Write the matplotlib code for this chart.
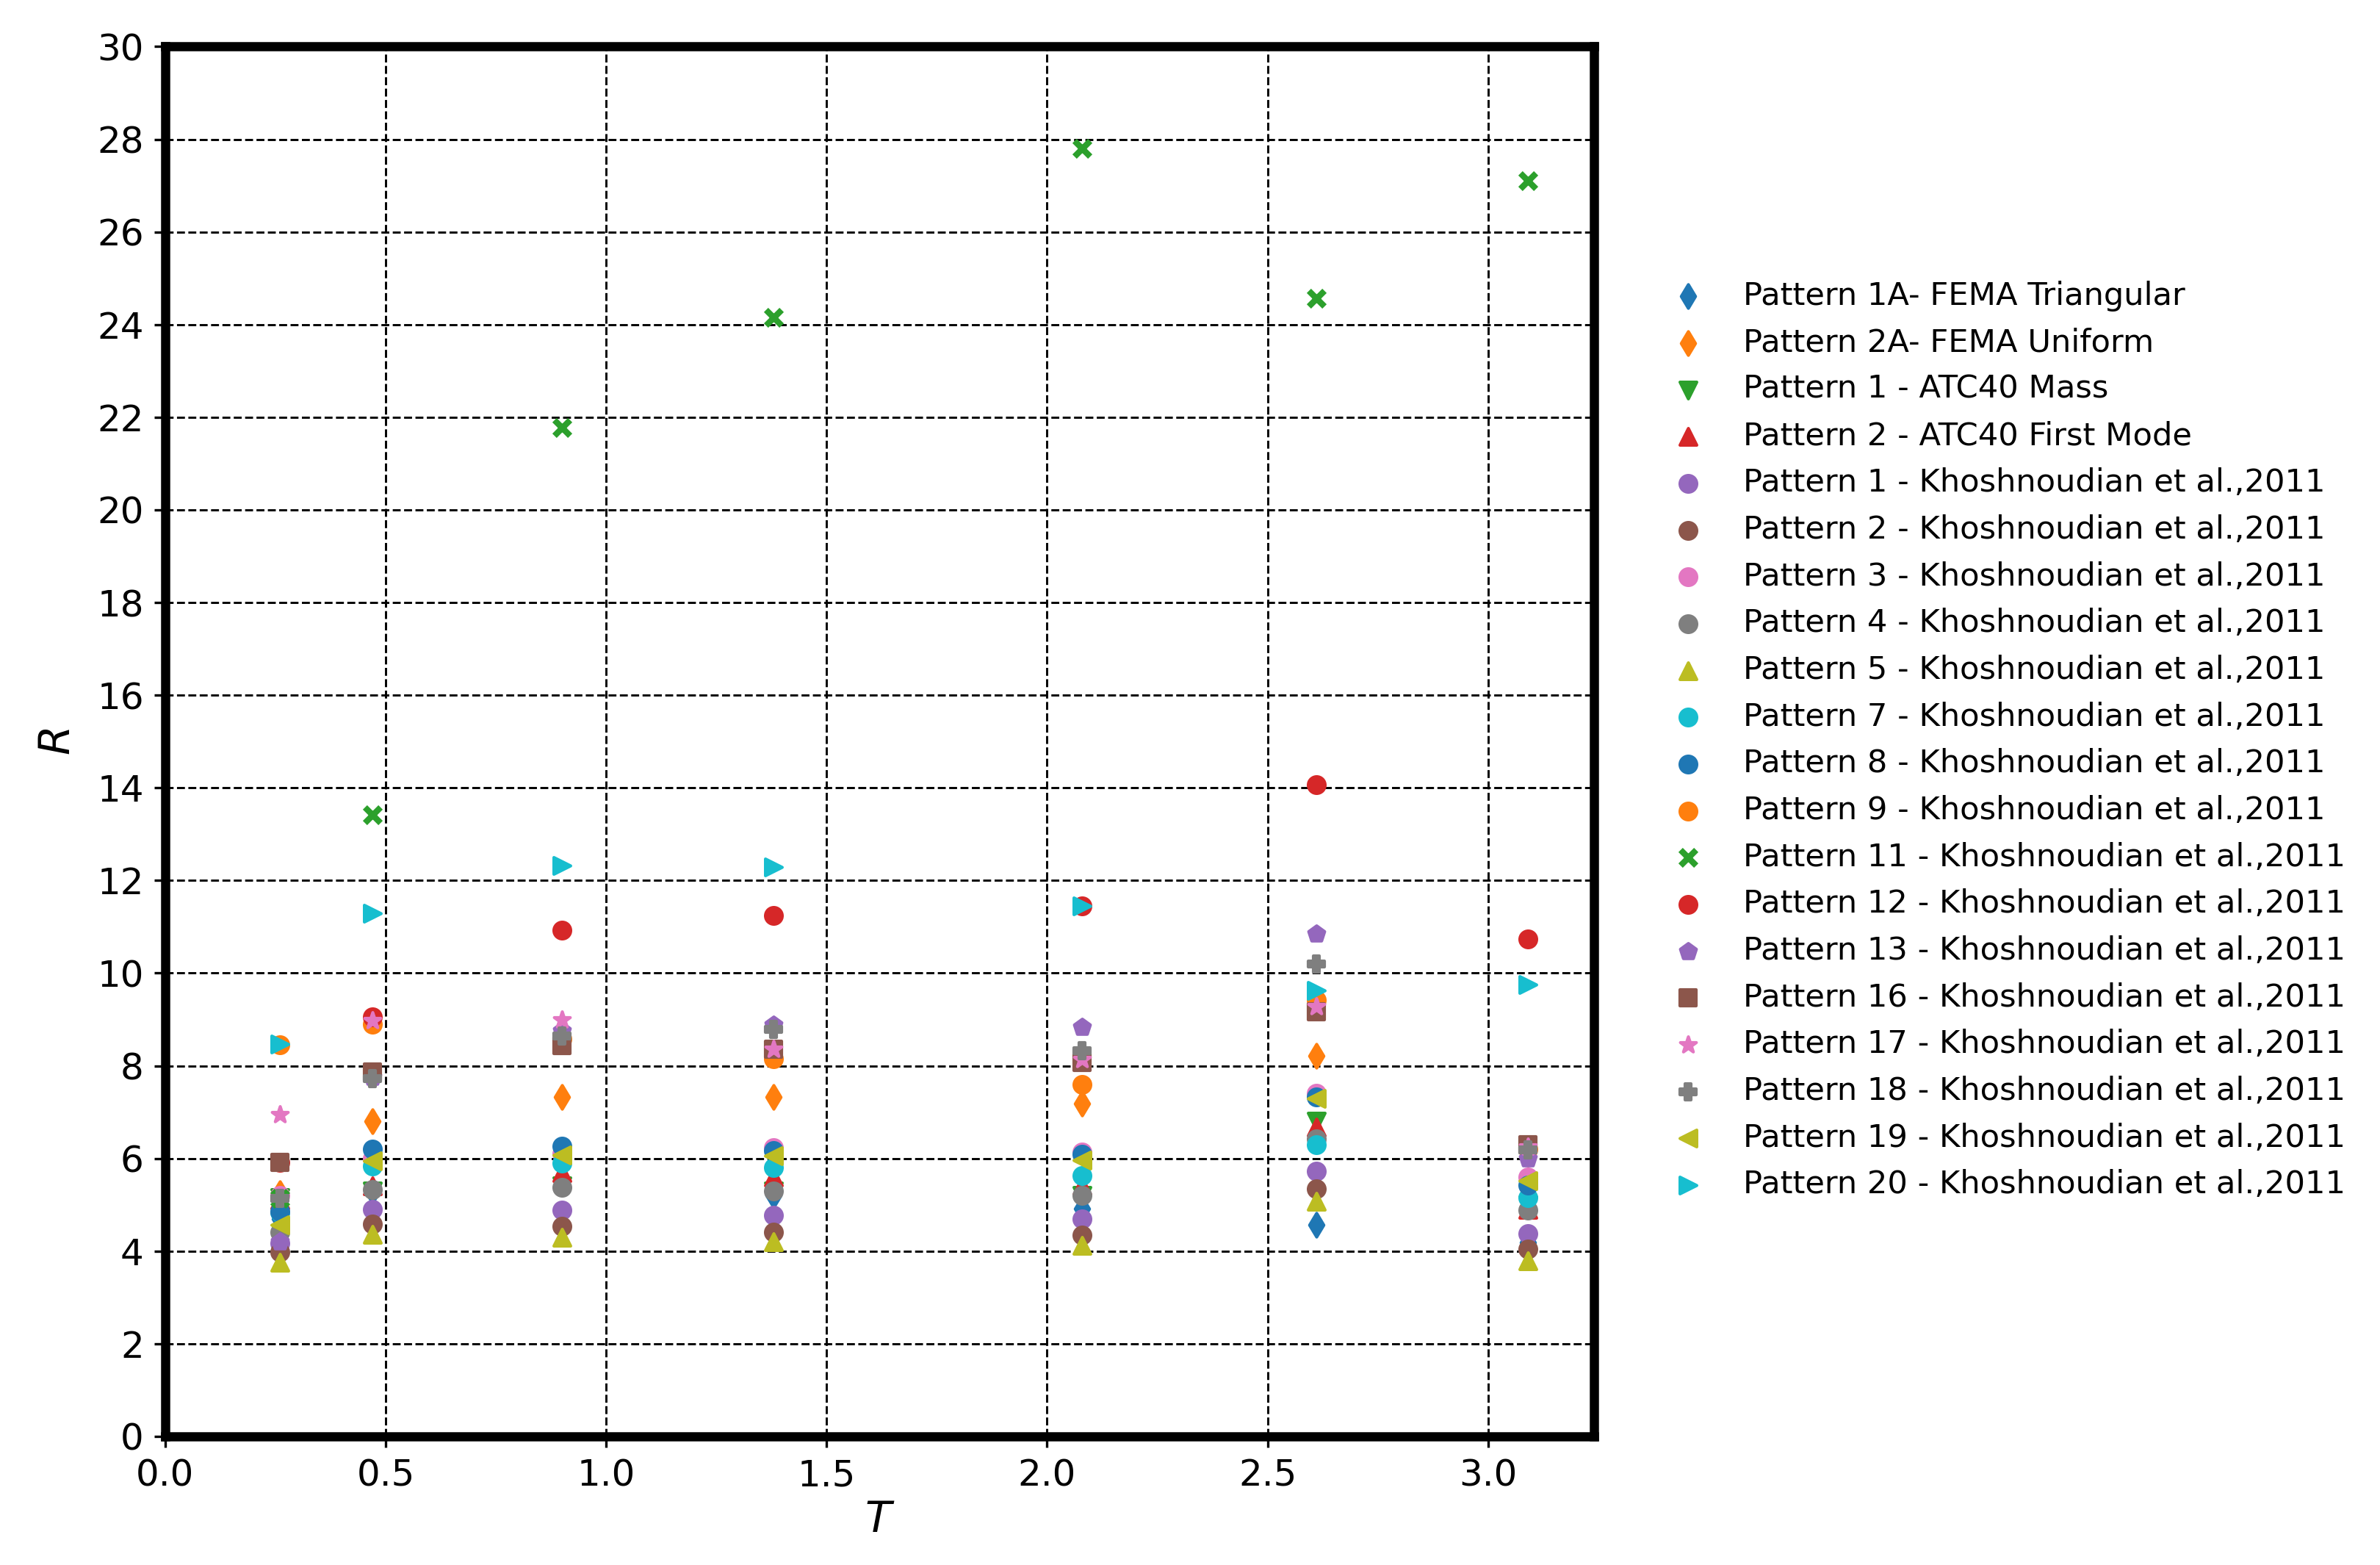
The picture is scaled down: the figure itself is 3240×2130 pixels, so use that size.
import matplotlib.pyplot as plt

# periods (s) of the seven frames
T = [0.26, 0.47, 0.90, 1.38, 2.08, 2.61, 3.09]

# response modification factor R for each load pattern
p1A_fema = [4.70, 5.30, 5.55, 5.20, 4.92, 4.57, 4.19]
p2A_fema = [5.25, 6.80, 7.33, 7.33, 7.18, 8.22, 6.10]
p1_atc = [5.15, 5.30, 5.40, 5.30, 5.20, 6.80, 5.00]
p2_atc = [5.10, 5.40, 5.70, 5.60, 5.41, 6.67, 4.90]
k1 = [4.17, 4.90, 4.88, 4.78, 4.69, 5.72, 4.37]
k2 = [3.98, 4.59, 4.53, 4.41, 4.35, 5.35, 4.04]
k3 = [5.20, 6.00, 6.10, 6.23, 6.14, 7.40, 5.60]
k4 = [4.41, 5.33, 5.38, 5.30, 5.20, 6.42, 4.89]
k5 = [3.75, 4.36, 4.30, 4.20, 4.12, 5.08, 3.79]
k7 = [4.84, 5.83, 5.90, 5.80, 5.63, 6.30, 5.16]
k8 = [4.85, 6.20, 6.27, 6.17, 6.09, 7.33, 5.42]
k9 = [8.45, 8.90, 8.58, 8.15, 7.59, 9.42, 6.20]
k11 = [5.13, 13.42, 21.77, 24.16, 27.80, 24.56, 27.11]
k12 = [5.92, 9.05, 10.92, 11.25, 11.45, 14.07, 10.74]
k13 = [4.20, 7.75, 8.75, 8.88, 8.84, 10.84, 6.00]
k16 = [5.92, 7.86, 8.43, 8.36, 8.07, 9.16, 6.29]
k17 = [6.94, 8.98, 8.99, 8.36, 8.13, 9.27, 6.25]
k18 = [5.13, 7.72, 8.64, 8.79, 8.33, 10.20, 6.19]
k19 = [4.56, 5.94, 6.08, 6.05, 5.97, 7.30, 5.52]
k20 = [8.47, 11.29, 12.32, 12.29, 11.45, 9.62, 9.76]

ref = 'Khoshnoudian et al.,2011'
series = [
    (p1A_fema, 'd', 'Pattern 1A- FEMA Triangular'),
    (p2A_fema, 'd', 'Pattern 2A- FEMA Uniform'),
    (p1_atc, 'v', 'Pattern 1 - ATC40 Mass'),
    (p2_atc, '^', 'Pattern 2 - ATC40 First Mode'),
    (k1, 'o', 'Pattern 1 - ' + ref),
    (k2, 'o', 'Pattern 2 - ' + ref),
    (k3, 'o', 'Pattern 3 - ' + ref),
    (k4, 'o', 'Pattern 4 - ' + ref),
    (k5, '^', 'Pattern 5 - ' + ref),
    (k7, 'o', 'Pattern 7 - ' + ref),
    (k8, 'o', 'Pattern 8 - ' + ref),
    (k9, 'o', 'Pattern 9 - ' + ref),
    (k11, 'x', 'Pattern 11 - ' + ref),
    (k12, 'o', 'Pattern 12 - ' + ref),
    (k13, 'p', 'Pattern 13 - ' + ref),
    (k16, 's', 'Pattern 16 - ' + ref),
    (k17, '*', 'Pattern 17 - ' + ref),
    (k18, 'P', 'Pattern 18 - ' + ref),
    (k19, '<', 'Pattern 19 - ' + ref),
    (k20, '>', 'Pattern 20 - ' + ref),
]

fig = plt.figure(figsize=(10.8, 7.1), dpi=300)
ax = fig.add_axes([0.0694, 0.0822, 0.6003, 0.888])

for i, (vals, mk, lab) in enumerate(series):
    col = 'C%d' % (i % 10)
    if mk == 'x':
        ax.scatter(T, vals, marker=mk, s=26, color=col, linewidths=2, label=lab, zorder=3)
    else:
        ax.scatter(T, vals, marker=mk, s=30, color=col, label=lab, zorder=3)

ax.set_xlim(0, 3.24)
ax.set_ylim(0, 30)
ax.set_xticks([0.0, 0.5, 1.0, 1.5, 2.0, 2.5, 3.0])
ax.set_yticks(range(0, 31, 2))
ax.tick_params(labelsize=12)
ax.grid(True, color='black', linestyle='--', linewidth=0.7)
ax.set_axisbelow(True)
for sp in ax.spines.values():
    sp.set_linewidth(3)
ax.set_xlabel('$T$', fontsize=14, labelpad=2)
ax.set_ylabel('$R$', fontsize=14, labelpad=6)

fig.legend(loc='center left', bbox_to_anchor=(0.684, 0.527), frameon=False,
           fontsize=10.4, labelspacing=0.5, handletextpad=0.72, scatterpoints=1)

fig.savefig('out.png', dpi=300)
